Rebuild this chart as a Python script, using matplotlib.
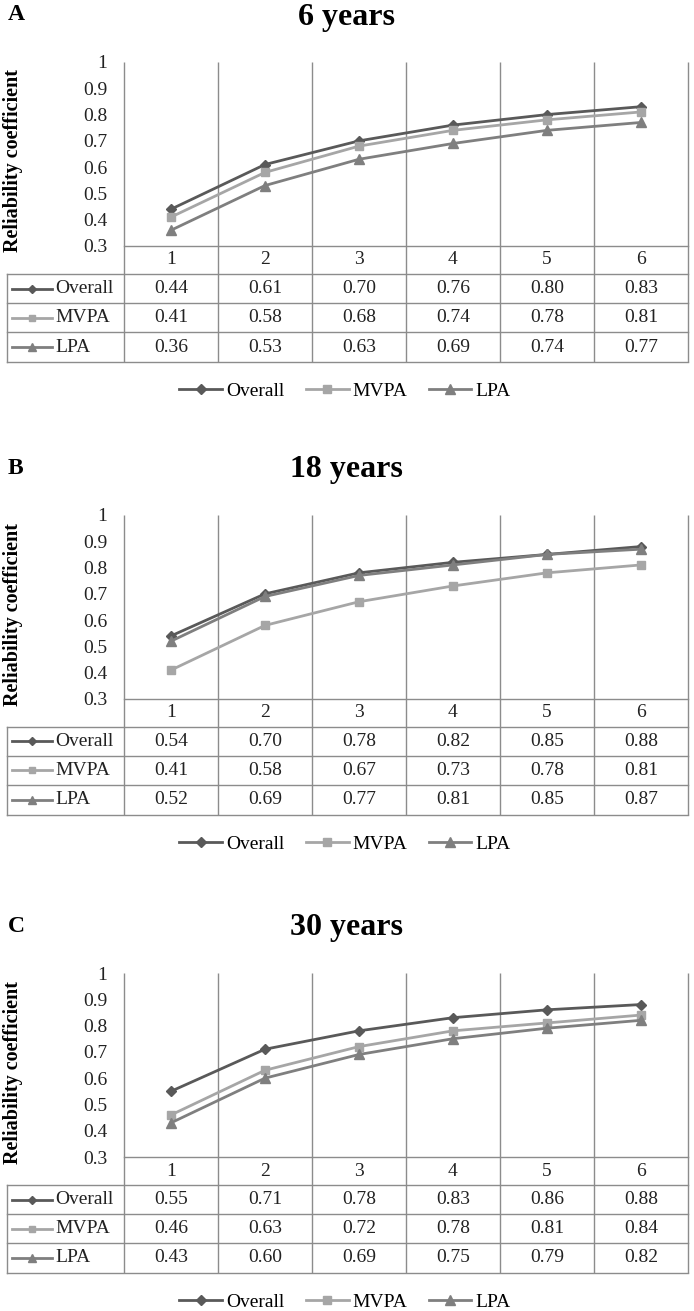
import numpy as np
import matplotlib
matplotlib.use("Agg")
from matplotlib import pyplot as plt
from matplotlib import transforms

# 数据
days = [1, 2, 3, 4, 5, 6]
series_names = ["Overall", "MVPA", "LPA"]

titles = ["6 years", "18 years", "30 years"]
letters = ["A", "B", "C"]

overall_6 = [0.44, 0.61, 0.70, 0.76, 0.80, 0.83]
mvpa_6 = [0.41, 0.58, 0.68, 0.74, 0.78, 0.81]
lpa_6 = [0.36, 0.53, 0.63, 0.69, 0.74, 0.77]

overall_18 = [0.54, 0.70, 0.78, 0.82, 0.85, 0.88]
mvpa_18 = [0.41, 0.58, 0.67, 0.73, 0.78, 0.81]
lpa_18 = [0.52, 0.69, 0.77, 0.81, 0.85, 0.87]

overall_30 = [0.55, 0.71, 0.78, 0.83, 0.86, 0.88]
mvpa_30 = [0.46, 0.63, 0.72, 0.78, 0.81, 0.84]
lpa_30 = [0.43, 0.60, 0.69, 0.75, 0.79, 0.82]

y_ticks = [0.3, 0.4, 0.5, 0.6, 0.7, 0.8, 0.9, 1.0]
y_ticklabels = ["0.3", "0.4", "0.5", "0.6", "0.7", "0.8", "0.9", "1"]

colors = ["#595959", "#a6a6a6", "#7f7f7f"]
markers = ["D", "s", "^"]
msizes = [5, 6, 6.5]

W, H = 694, 1311
FONT = "Liberation Serif"
GRID = "#8c8c8c"
TXT = "#222222"
FS = 14

plt.rcParams['font.family'] = [FONT, 'DejaVu Serif']

fig = plt.figure(figsize=(W / 100, H / 100), dpi=100)

# 每个面板的绘图区顶部位置(像素)
panel_tops = [62, 515, 973]
ax_left, ax_right = 124, 688
ax_h = 184
row_h = [28, 29, 29, 30]  # 刻度行 + 三行表格
table_left = 7


def draw_panel(top, title, letter, values):
    ax = fig.add_axes([ax_left / W, 1 - (top + ax_h) / H,
                       (ax_right - ax_left) / W, ax_h / H])
    ax.set_xlim(0.5, 6.5)
    ax.set_ylim(0.3, 1.0)
    for s in ["top", "left", "right"]:
        ax.spines[s].set_visible(False)
    ax.spines["bottom"].set_color(GRID)
    ax.spines["bottom"].set_linewidth(1)
    ax.set_xticks([])
    ax.set_yticks(y_ticks)
    ax.set_yticklabels(y_ticklabels, fontsize=FS, color=TXT)
    ax.tick_params(axis="y", length=0, pad=12)

    lines = []
    for vals, c, m, ms, name in zip(values, colors, markers, msizes, series_names):
        ln, = ax.plot(days, vals, color=c, marker=m, markersize=ms, linewidth=2,
                      markeredgecolor=c, label=name, clip_on=False, zorder=3)
        lines.append(ln)

    # 表格: 竖线贯穿绘图区和表格
    px = 1.0 / ax_h  # 一个像素对应的坐标轴比例
    tab_bottom = -sum(row_h) * px
    trans = transforms.blended_transform_factory(ax.transData, ax.transAxes)
    x_edges = np.arange(0.5, 7, 1.0)
    ax.vlines(x_edges, tab_bottom, 1, colors=GRID, linewidth=1,
              transform=trans, clip_on=False, zorder=1)

    xw = ax_right - ax_left
    left_frac = (table_left - ax_left) / xw
    y = -row_h[0] * px
    borders = [y]
    for h in row_h[1:]:
        y -= h * px
        borders.append(y)
    for b in borders:
        ax.plot([left_frac, 1], [b, b], color=GRID, linewidth=1,
                transform=ax.transAxes, clip_on=False)
    ax.plot([left_frac, left_frac], [borders[0], borders[-1]], color=GRID,
            linewidth=1, transform=ax.transAxes, clip_on=False)

    # 刻度行
    yc = -row_h[0] / 2 * px
    for d in days:
        ax.text(d, yc, str(d), transform=trans, ha="center", va="center",
                fontsize=FS, color=TXT)

    # 数据行
    for i, (vals, c, m, ms, name) in enumerate(zip(values, colors, markers, msizes, series_names)):
        yc = (borders[i] + borders[i + 1]) / 2
        kx0 = (12 - ax_left) / xw
        kx1 = (52 - ax_left) / xw
        ax.plot([kx0, kx1], [yc, yc], color=c, linewidth=2,
                transform=ax.transAxes, clip_on=False)
        ax.plot([(kx0 + kx1) / 2], [yc], color=c, marker=m, markersize=ms - 1,
                transform=ax.transAxes, clip_on=False)
        ax.text((55 - ax_left) / xw, yc, name, transform=ax.transAxes,
                ha="left", va="center", fontsize=FS, color=TXT)
        for d, v in zip(days, vals):
            ax.text(d, yc, "%.2f" % v, transform=trans, ha="center",
                    va="center", fontsize=FS, color=TXT)

    # 标题和字母
    fig.text(346 / W, 1 - (top - 45) / H, title, ha="center", va="center",
             fontsize=23, fontweight="bold")
    fig.text(8 / W, 1 - (top - 47) / H, letter, ha="left", va="center",
             fontsize=17, fontweight="bold")
    fig.text(13 / W, 1 - (top + 99) / H, "Reliability coefficient",
             rotation=90, ha="center", va="center", fontsize=14.5,
             fontweight="bold")

    # 图例
    leg_y = top + ax_h + sum(row_h) + 29
    ax.legend(handles=lines, loc="center", ncol=3, frameon=False,
              bbox_to_anchor=(345 / W, 1 - leg_y / H),
              bbox_transform=fig.transFigure, fontsize=FS,
              handlelength=2.2, handletextpad=0.2, columnspacing=1.1,
              numpoints=1)
    return ax


all_values = [
    [overall_6, mvpa_6, lpa_6],
    [overall_18, mvpa_18, lpa_18],
    [overall_30, mvpa_30, lpa_30],
]

for top, title, letter, vals in zip(panel_tops, titles, letters, all_values):
    draw_panel(top, title, letter, vals)

plt.savefig("out.png", dpi=100)
